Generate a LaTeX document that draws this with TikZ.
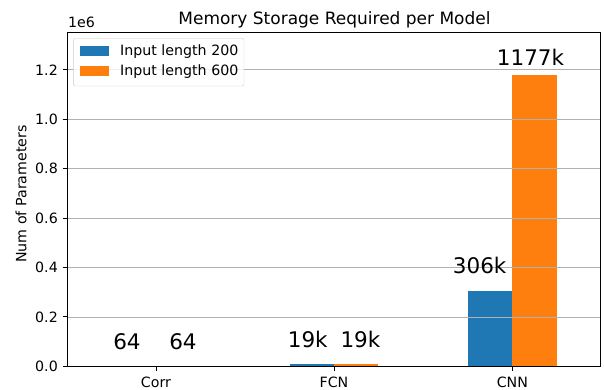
\documentclass[tikz,border=0pt]{standalone}
\usepackage{fontspec}
\setmainfont{DejaVu Sans}
\definecolor{bluebar}{HTML}{1F77B4}
\definecolor{orangebar}{HTML}{FF7F0E}
\definecolor{gridgray}{HTML}{B0B0B0}
\definecolor{framegray}{HTML}{CCCCCC}
\tikzset{
  gridline/.style={draw=gridgray,line width=0.8pt},
  spine/.style={draw=black,line width=0.9pt},
  ticklab/.style={font=\fontsize{14.2}{16}\selectfont,inner sep=0pt},
  vallab/.style={font=\fontsize{21.5}{24}\selectfont,inner sep=0pt,anchor=base},
  len200/.style={fill=bluebar},
  len600/.style={fill=orangebar}
}

\begin{document}
\begin{tikzpicture}[x=1pt,y=-1pt]
  \useasboundingbox (0,0) rectangle (604,390);

  \fill[len200] (290,364.3) rectangle (334,366.3);
  \fill[len600] (334,364.3) rectangle (378,366.3);
  \fill[len200] (468,290.7) rectangle (512.4,366.3);
  \fill[len600] (512.4,75) rectangle (556.7,366.3);

  \foreach \v/\t in {0/0.0,1/0.2,2/0.4,3/0.6,4/0.8,5/1.0,6/1.2}
  {
    \draw[gridline] (67.3,{366.3-\v*49.4}) -- (600,{366.3-\v*49.4});
    \draw[spine] (62.5,{366.3-\v*49.4}) -- (67.3,{366.3-\v*49.4});
    \node[ticklab,anchor=east] (ytick\v) at (58,{366.3-\v*49.4}) {\t};
  }
  \foreach \x/\m in {156/Corr,334/FCN,512.4/CNN}
  {
    \draw[spine] (\x,366.3) -- (\x,371);
    \node[ticklab,anchor=base] (xtick\m) at (\x,387.3) {\m};
  }
  \draw[spine] (67.3,32.3) rectangle (600,366.3);

  \draw[framegray,fill=white,fill opacity=0.8,rounded corners=2pt] (73.3,38.3) rectangle (244,86);
  \fill[len200] (80,46) rectangle (109,56);
  \fill[len600] (80,66) rectangle (109,76);
  \node[ticklab,anchor=base west] (leg200) at (120,55.7) {Input length 200};
  \node[ticklab,anchor=base west] (leg600) at (120,75.7) {Input length 600};

  \node[vallab] (corr200) at (127,349.3) {64};
  \node[vallab] (corr600) at (183,349.3) {64};
  \node[vallab] (fcn200) at (307.8,347.3) {19k};
  \node[vallab] (fcn600) at (360.4,347.3) {19k};
  \node[vallab] (cnn200) at (479.7,273) {306k};
  \node[vallab] (cnn600) at (530.5,66) {1177k};

  \node[font=\fontsize{17}{20}\selectfont,inner sep=0pt,anchor=base] (title) at (334.5,25) {Memory Storage Required per Model};
  \node[ticklab,anchor=base west] (expo) at (68,27.3) {1e6};
  \node[ticklab,rotate=90] (ylab) at (21,194) {Num of Parameters};
\end{tikzpicture}
\end{document}
